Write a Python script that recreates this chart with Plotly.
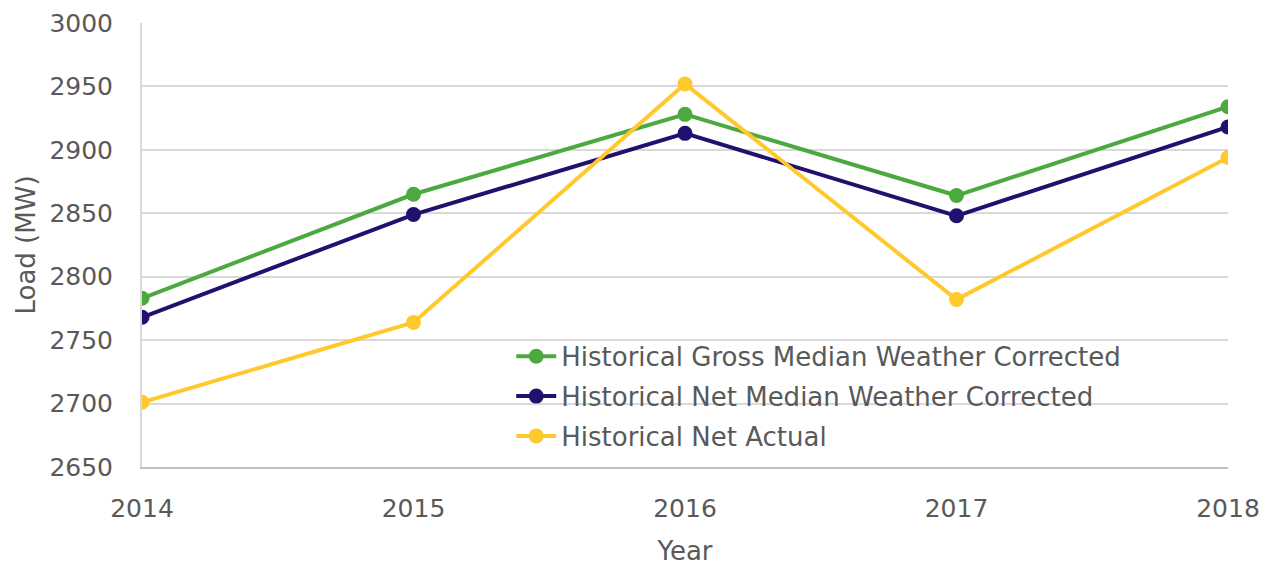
import plotly.graph_objs as go

years = [2014, 2015, 2016, 2017, 2018]
gross_wc = [2783, 2865, 2928, 2864, 2934]
net_wc = [2768, 2849, 2913, 2848, 2918]
net_actual = [2701, 2764, 2952, 2782, 2894]

series = [
    ("Historical Gross Median Weather Corrected", gross_wc, "#4BA93F"),
    ("Historical Net Median Weather Corrected", net_wc, "#22106E"),
    ("Historical Net Actual", net_actual, "#FFC92E"),
]

fig = go.Figure()
for i, (name, vals, colour) in enumerate(series):
    fig.add_trace(
        go.Scatter(
            x = years,
            y = vals,
            name = name,
            mode = "lines+markers",
            line = dict(color = colour, width = 4),
            marker = dict(color = colour, size = 15),
            legendgroup = "g{}".format(i),
        )
    )

font_family = "DejaVu Sans, Verdana, sans-serif"
grey = "#595959"

# page body has an 8px margin, so the margins are offset to compensate
fig.update_layout(
    width = 1274,
    height = 564,
    plot_bgcolor = "white",
    paper_bgcolor = "white",
    margin = dict(l = 134, r = 54, t = 15, b = 105, autoexpand = False),
    font = dict(family = font_family, size = 25, color = grey),
    legend = dict(
        x = 0.34, y = 0.302, xanchor = "left", yanchor = "top",
        bgcolor = "rgba(0,0,0,0)", tracegroupgap = 3, itemwidth = 40,
        font = dict(size = 26, color = grey),
    ),
)
fig.update_xaxes(
    range = [2014, 2018],
    tickvals = years,
    showgrid = False,
    showline = True, linecolor = "#BFBFBF", linewidth = 2,
    ticks = "", ticklabelstandoff = 18,
    title = dict(text = "Year", standoff = 20, font = dict(size = 26)),
    zeroline = False,
)
fig.update_yaxes(
    range = [2650, 3000],
    dtick = 50,
    showgrid = True, gridcolor = "#D9D9D9", gridwidth = 2,
    showline = True, linecolor = "#D9D9D9", linewidth = 2,
    ticks = "", ticklabelstandoff = 22,
    title = dict(text = "Load (MW)", standoff = 6, font = dict(size = 26)),
    zeroline = False,
)

fig.write_html("out.html")
